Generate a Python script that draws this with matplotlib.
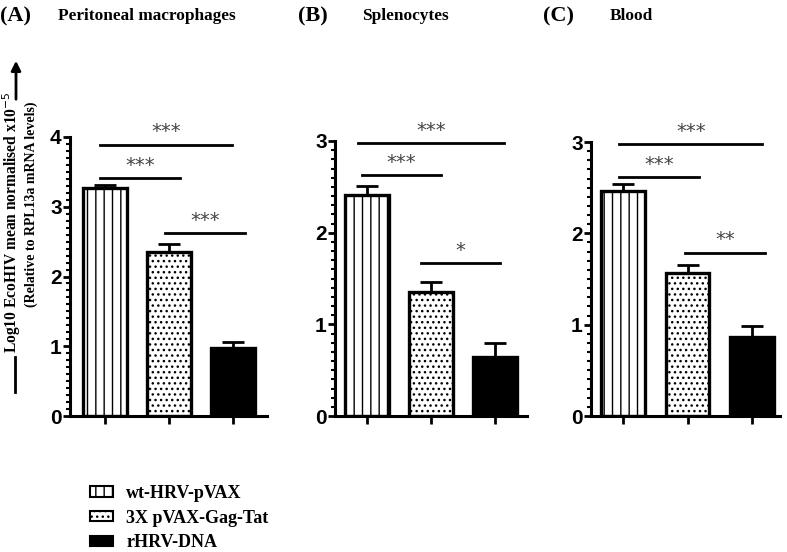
import numpy as np
import matplotlib
matplotlib.use("Agg")
import matplotlib.pyplot as plt
from matplotlib.patches import Patch, FancyArrowPatch
from matplotlib.lines import Line2D
from matplotlib.ticker import MultipleLocator

groups = ["wt-HRV-pVAX", "3X pVAX-Gag-Tat", "rHRV-DNA"]
hatches = ["||", "...", None]
fills = ["white", "white", "black"]

panels = ["(A)", "(B)", "(C)"]
titles = ["Peritoneal macrophages", "Splenocytes", "Blood"]
means = [[3.27, 2.35, 0.97], [2.41, 1.35, 0.64], [2.46, 1.57, 0.87]]
errs = [[0.04, 0.12, 0.09], [0.10, 0.11, 0.16], [0.08, 0.08, 0.12]]
ymax = [4, 3, 3]
# significance brackets: (x0, x1, y, label)
sig = [
    [(-0.08, 1.98, 3.89, "***"), (-0.08, 1.17, 3.41, "***"), (0.94, 2.19, 2.62, "***")],
    [(-0.14, 2.14, 2.98, "***"), (-0.08, 1.16, 2.63, "***"), (0.85, 2.08, 1.67, "*")],
    [(-0.06, 2.16, 2.98, "***"), (-0.06, 1.18, 2.62, "***"), (0.96, 2.20, 1.79, "**")],
]

plt.rcParams["hatch.linewidth"] = 1.0
W, H = 787, 552
fig = plt.figure(figsize=(W / 100, H / 100), dpi=100)

# axes boxes in pixels: left, right, top(y of ymax), bottom(y of 0)
boxes = [(70, 267, 137, 416), (335, 527, 141, 416), (591, 780, 142, 416)]
centers = [(105, 233), (367, 495), (623, 752)]
title_x = [(0, 58), (298, 362), (543, 610)]

for i in range(3):
    l, r, t, b = boxes[i]
    ax = fig.add_axes([l / W, 1 - b / H, (r - l) / W, (b - t) / H])
    c0, c2 = centers[i]
    ppu = (c2 - c0) / 2
    ax.set_xlim(-(c0 - l) / ppu, 2 + (r - c2) / ppu)
    ax.set_ylim(0, ymax[i])
    x = np.arange(3)
    for j in range(3):
        ax.bar(x[j], means[i][j], width=0.68, color=fills[j], edgecolor="black",
               linewidth=2.4, hatch=hatches[j], zorder=2)
    ax.errorbar(x, means[i], yerr=[[0, 0, 0], errs[i]], fmt="none", ecolor="black",
                elinewidth=2, capsize=8, capthick=2, zorder=1)
    for x0, x1, y, lab in sig[i]:
        ax.plot([x0, x1], [y, y], color="black", lw=2, clip_on=False)
        ax.text((x0 + x1) / 2, y + 0.035 * ymax[i] / 3, lab, ha="center", va="bottom",
                color="#444444", fontsize=14, family="DejaVu Sans")
    ax.spines["top"].set_visible(False)
    ax.spines["right"].set_visible(False)
    ax.spines["left"].set_linewidth(2.2)
    ax.spines["bottom"].set_linewidth(2.2)
    ax.set_xticks(x)
    ax.set_xticklabels([])
    ax.set_yticks(range(ymax[i] + 1))
    ax.yaxis.set_minor_locator(MultipleLocator(0.1))
    ax.tick_params(axis="y", which="major", width=2, length=5, labelsize=15, pad=1)
    ax.tick_params(axis="y", which="minor", width=1.5, length=3)
    ax.tick_params(axis="x", width=2, length=6)
    for lb in ax.get_yticklabels():
        lb.set_fontweight("bold")
        lb.set_family("Liberation Sans")

    fig.text(title_x[i][0] / W, 1 - 16 / H, panels[i], fontsize=16, fontweight="bold",
             family="Liberation Serif", va="center")
    fig.text(title_x[i][1] / W, 1 - 16 / H, titles[i], fontsize=12.4, fontweight="bold",
             family="Liberation Serif", va="center")

# y label
fig.text(12 / W, 1 - 222 / H, "Log10 EcoHIV mean normalised x10$^{-5}$", rotation=90,
         ha="center", va="center", fontsize=11.2, fontweight="bold", family="Liberation Serif")
fig.text(31 / W, 1 - 204 / H, "(Relative to RPL13a mRNA levels)", rotation=90,
         ha="center", va="center", fontsize=10, fontweight="bold", family="Liberation Serif")
fig.add_artist(FancyArrowPatch((16 / W, 1 - 102 / H), (16 / W, 1 - 58 / H),
               transform=fig.transFigure, arrowstyle="-|>", mutation_scale=14, lw=2, color="black"))
fig.add_artist(Line2D([15 / W, 15 / W], [1 - 357 / H, 1 - 392 / H],
               transform=fig.transFigure, color="black", lw=2))

handles = [Patch(facecolor=fills[j], edgecolor="black", hatch=hatches[j], linewidth=1.5)
           for j in range(3)]
fig.legend(handles, groups, loc="upper left", bbox_to_anchor=(90 / W, 1 - 485 / H),
           frameon=False, prop={"family": "Liberation Serif", "weight": "bold", "size": 13},
           handlelength=1.3, handleheight=0.5, handletextpad=0.7, labelspacing=0.42,
           borderpad=0, borderaxespad=0)

fig.savefig("out.png", dpi=100)
